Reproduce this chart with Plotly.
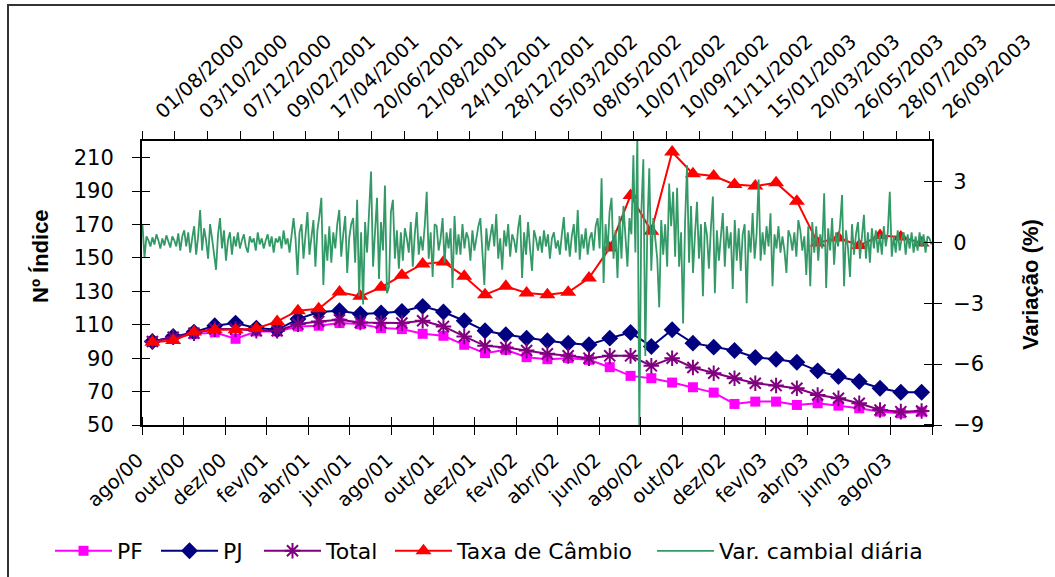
import plotly.graph_objects as go

# ---------------- data ----------------
meses = ["ago/00", "set/00", "out/00", "nov/00", "dez/00", "jan/01", "fev/01", "mar/01",
         "abr/01", "mai/01", "jun/01", "jul/01", "ago/01", "set/01", "out/01", "nov/01",
         "dez/01", "jan/02", "fev/02", "mar/02", "abr/02", "mai/02", "jun/02", "jul/02",
         "ago/02", "set/02", "out/02", "nov/02", "dez/02", "jan/03", "fev/03", "mar/03",
         "abr/03", "mai/03", "jun/03", "jul/03", "ago/03", "set/03"]

pf = [100.0, 102.0, 104.4, 105.4, 101.6, 106.0, 106.0, 109.0, 109.4, 111.0,
      110.4, 108.0, 107.4, 104.6, 103.4, 98.0, 93.0, 95.0, 90.6, 89.4,
      90.0, 89.0, 84.6, 79.4, 78.0, 75.4, 72.6, 69.4, 62.6, 64.0,
      64.0, 62.0, 63.0, 61.6, 60.0, 58.0, 57.0, 58.0]

pj = [100.0, 103.0, 105.6, 109.4, 111.0, 108.0, 107.0, 113.4, 117.6, 118.4,
      116.4, 117.0, 118.0, 121.0, 117.6, 112.4, 106.4, 104.0, 102.0, 100.4,
      99.0, 98.0, 102.0, 105.4, 97.0, 107.0, 99.0, 96.6, 94.6, 90.4,
      89.4, 87.6, 82.4, 79.0, 76.0, 72.0, 69.6, 69.6]

total = [100.0, 102.6, 105.0, 107.4, 107.4, 106.4, 106.4, 110.4, 112.0, 113.0,
         111.4, 111.0, 111.0, 112.4, 109.0, 103.0, 97.4, 96.4, 94.6, 92.6,
         91.4, 90.0, 91.4, 91.4, 85.4, 90.0, 84.4, 81.0, 78.0, 75.0,
         73.6, 72.0, 68.0, 66.0, 63.0, 59.0, 58.0, 58.4]

taxa_cambio = [99.5, 100.6, 105.6, 107.0, 107.0, 107.8, 112.0, 118.4, 119.6, 129.6,
               127.0, 132.4, 139.6, 146.4, 147.6, 139.0, 128.0, 133.0, 129.0, 128.0,
               129.4, 138.0, 156.0, 187.4, 166.0, 213.4, 200.4, 199.0, 194.0, 193.0,
               195.0, 184.0, 159.0, 162.0, 157.4, 163.4, 162.6, 159.0]

datas_topo = ["01/08/2000", "03/10/2000", "07/12/2000", "09/02/2001", "17/04/2001",
              "20/06/2001", "21/08/2001", "24/10/2001", "28/12/2001", "05/03/2002",
              "08/05/2002", "10/07/2002", "10/09/2002", "11/11/2002", "15/01/2003",
              "20/03/2003", "26/05/2003", "28/07/2003", "26/09/2003"]

# daily exchange-rate variation (%), read every 2nd business day
var_cambial = [
    # ago/2000 - out/2000
    0.87, -0.75, 0.3, 0.1, -0.2, 0.25, -0.1, 0.4, 0.1, -0.3, 0.2, -0.15, 0.35, 0.0, -0.25, 0.3, 0.1, -0.2, 0.45,
    # out/2000 - jan/2001
    -0.4, 0.3, 0.6, -0.2, 0.5, -0.5, 0.2, 0.8, -0.6, 0.3, 1.6, -0.4, 0.7, 0.1, -0.8,
    0.9, 0.2, -0.5, -1.35, 0.4, 1.2, -0.3, 0.6, -0.9, 0.1, 0.5, -0.6, 0.3, -0.2, 0.5,
    # jan/2001 - abr/2001
    -0.3, 0.1, 0.4, -0.2, -0.5, 0.3, 0.0, 0.2, -0.4, 0.5, -0.1, 0.2, -0.3, 0.1, 0.4,
    -0.2, 0.3, -0.5, 0.2, 0.0, 0.3, -0.3, 0.6, -0.1, 0.2, -0.5,
    # abr/2001 - mai/2001
    0.3, 1.2, 0.2, -1.6, 0.5, 0.9, -0.8, 0.4, 1.5, -0.6, 0.3, 1.1, -1.2, 0.6, 1.3, 2.2, -2.1, 0.4, -0.9,
    # jun/2001 - set/2001
    0.8, -1.0, 0.5, -0.3, 0.9, 1.6, -0.7, 0.4, 1.3, -1.5, 0.2, 0.9, 1.2, -1.0, 2.1, -2.65, 0.5, -3.06,
    1.0, -0.5, 1.6, 3.5, -1.2, 0.6, 2.2, -1.8, 1.0, -0.4, 2.8, -2.5, -2.2, 1.5, 2.1, -0.8, 0.6, -1.3,
    # set/2001 - dez/2001
    0.5, -0.9, 0.7, 0.2, -0.5, 1.0, -1.2, 0.4, 1.5, -0.6, 0.3, -0.4, 0.8, 2.5, -0.8,
    0.5, -1.7, 0.9, 0.8, -0.4, 0.2, 1.2, -1.0, 0.5, -0.3, 0.7, -2.24, 1.3, -0.6, 0.4,
    # dez/2001 - abr/2002
    -0.6, 0.9, -0.3, 0.5, 0.2, -0.9, 0.6, -0.4, 0.3, 0.8, 1.2, -0.5, -2.1, 0.7, -0.4, 0.3, 0.9, -0.2, 1.4, -0.8,
    0.2, -1.35, 0.6, -0.2, 0.9, -0.7, 0.4, 0.1, -0.5, 0.7, 1.35, -1.75, 0.5, -0.6, 1.0, -0.3, -1.4, 0.6, 0.2, -0.4,
    # abr/2002 - jun/2002
    0.3, -0.5, 0.6, -0.2, 0.4, -0.8, 0.2, 0.5, -0.3, 0.1, -0.6, 0.4, 1.25, -0.4, 0.5,
    -0.7, 0.3, 0.9, -0.5, 1.6, -0.85, 0.4, -0.3, 0.7, -0.6, 0.2, 0.5, -0.4, 0.8,
    # jun/2002 - jul/2002
    1.2, -0.3, 3.16, -2.0, 0.9, -0.5, 1.5, 2.2, -0.8, 0.6, -1.75, 1.3, -0.8, 1.8, 0.3, -1.2, 1.2, 0.4, 4.3, -0.5,
    # jul/2002 - out/2002
    5.3, -9.4, 1.5, 4.1, -5.6, 0.6, 3.65, -1.4, 1.2, 0.2, -0.8, -3.2, 1.1, -0.6, 0.9, -1.2,
    2.9, 0.8, 2.5, -0.7, 2.7, -1.2, 0.5, -4.0, 1.0, 3.8, -1.0, 1.8, -1.5, 0.4, 2.0,
    # out/2002 - dez/2002
    -0.8, 0.9, -2.65, 1.0, 0.4, -1.3, 0.7, 2.26, -2.5, 0.6, -0.9, 0.3, 1.45, -1.2, 0.8, -0.3,
    0.5, -2.3, 1.1, -0.9, 0.7, -1.4, 0.4, 0.9, -3.0, 0.6, -0.5, 1.45, -0.8, 0.4, 3.1,
    # jan/2003 - fev/2003
    -0.9, 0.5, -0.6, 0.8, -0.2, 1.44, -2.16, 0.4, -0.3, 0.8, -0.5, 0.3, -0.4, -1.5, 0.6, 0.3, -0.4, 0.5, -0.7, 1.1,
    # fev/2003 - jun/2003
    0.6, -0.4, 0.3, -1.6, 0.8, -2.16, 1.0, -0.5, 0.8, -0.9, 0.4, -0.3, 2.42, -2.24, 0.7, -0.4, 1.2, -1.1, 0.5, -0.2,
    0.9, 2.34, -2.16, 0.6, -0.3, -1.7, 0.9, -0.6, 0.4, 1.0, -0.8, 0.3, 1.36, -0.8, 0.5, -1.0, 0.7, -0.3, 0.6, -0.5,
    # jun/2003 - set/2003
    0.4, -0.6, 0.8, -0.2, 0.5, 2.5, -0.7, 0.3, -0.5, 0.6, -0.4, 0.2, 0.5, -0.6,
    0.4, -0.3, 0.5, -0.5, 0.3, -0.4, 0.5, -0.2, 0.4, -0.5, 0.3, 0.2, -0.1,
]

N_DIAS = 795        # business days on the top category axis
PASSO = 2           # one reading every 2 business days
ROTULO_CADA = 44    # top-axis label interval (days)
MARCA_CADA = 33     # top-axis tick-mark interval (days)

# ---------------- figure ----------------
FONT = "DejaVu Sans"
TFONT = dict(family=FONT, size=21, color="black")
RFONT = dict(family=FONT, size=19.5, color="black")
LFONT = dict(family=FONT, size=22, color="black")
EPS = 1e-3

x_mes = list(range(len(meses)))
x_dia = [PASSO * k for k in range(len(var_cambial))]

fig = go.Figure()
fig.add_trace(go.Scatter(x=x_mes, y=pf, name="PF", mode="lines+markers",
                         line=dict(color="#FF00FF", width=2),
                         marker=dict(symbol="square", size=10, color="#FF00FF"),
                         legend="legend"))
fig.add_trace(go.Scatter(x=x_mes, y=pj, name="PJ", mode="lines+markers",
                         line=dict(color="#000080", width=2),
                         marker=dict(symbol="diamond", size=13, color="#000080"),
                         legend="legend2"))
fig.add_trace(go.Scatter(x=x_mes, y=total, name="Total", mode="lines+markers",
                         line=dict(color="#800080", width=2),
                         marker=dict(symbol="asterisk-open", size=13, color="#800080",
                                     line=dict(color="#800080", width=2)),
                         legend="legend3"))
fig.add_trace(go.Scatter(x=x_mes, y=taxa_cambio, name="Taxa de Câmbio", mode="lines+markers",
                         line=dict(color="#FF0000", width=2),
                         marker=dict(symbol="triangle-up", size=14, color="#FF0000"),
                         legend="legend4"))
fig.add_trace(go.Scatter(x=x_dia, y=var_cambial, name="Var. cambial diária", mode="lines",
                         line=dict(color="#339966", width=1.8),
                         xaxis="x2", yaxis="y2", legend="legend5"))

L, R, T, B = 142, 932, 141, 425
W, H = 1055, 577
def px(xp):
    return (xp - L) / (R - L)
def py(yp):
    return (B - yp) / (B - T)

# legends placed in container coordinates so they never push the margins
leg_common = dict(orientation="h", yanchor="middle", xanchor="left",
                  xref="container", yref="container", y=1 - 551 / H,
                  font=LFONT, bgcolor="rgba(0,0,0,0)", itemwidth=57, visible=True)

axis_common = dict(showgrid=False, zeroline=False, showline=True, linecolor="black",
                   linewidth=2, ticks="outside", ticklen=8, tickcolor="black",
                   tickfont=TFONT, automargin=False)

mes_ticks = [i - 0.5 for i in range(0, len(meses), 2)] + [len(meses) - 0.5]
y_ticks = list(range(50, 211, 20))
y2_ticks = [-9, -6, -3, 0, 3]

fig.update_layout(
    width=W, height=H, autosize=False, showlegend=True,
    margin=dict(l=L, r=W - R, t=T, b=H - B, pad=0),
    paper_bgcolor="white", plot_bgcolor="white",
    font=TFONT,
    xaxis=dict(axis_common, range=[-0.5, len(meses) - 0.5], tickmode="array",
               tickvals=mes_ticks, tickfont=RFONT,
               ticktext=[meses[i] for i in range(0, len(meses), 2)] + [""],
               tickangle=-43, ticklabelstandoff=6, ticklabelshift=-4,
               minor=dict(ticks="inside", ticklen=8, tickcolor="black", tickwidth=1,
                          tickmode="array", tickvals=[v + EPS for v in mes_ticks])),
    yaxis=dict(axis_common, range=[50, 220], tickmode="array", tickvals=y_ticks,
               ticklabelstandoff=14,
               minor=dict(ticks="inside", ticklen=8, tickcolor="black", tickwidth=1,
                          tickmode="array", tickvals=[v + EPS for v in y_ticks])),
    xaxis2=dict(axis_common, overlaying="x", side="top", anchor="y",
                range=[-0.5, N_DIAS - 0.5], tickmode="array", tickfont=RFONT,
                tickvals=[ROTULO_CADA * m for m in range(len(datas_topo))],
                ticktext=datas_topo, ticks="", tickangle=-43,
                ticklabelstandoff=9, ticklabelshift=14,
                minor=dict(ticks="outside", ticklen=8, tickcolor="black", tickwidth=1,
                           tickmode="array",
                           tickvals=[MARCA_CADA * m - 0.5 for m in range(N_DIAS // MARCA_CADA + 1)])),
    yaxis2=dict(axis_common, overlaying="y", side="right", anchor="x",
                range=[-9, 5], tickmode="array", tickvals=y2_ticks,
                ticklabelstandoff=7,
                minor=dict(ticks="inside", ticklen=8, tickcolor="black", tickwidth=1,
                           tickmode="array", tickvals=[v + EPS for v in y2_ticks])),
    legend=dict(leg_common, x=50 / W),
    legend2=dict(leg_common, x=156 / W),
    legend3=dict(leg_common, x=259 / W),
    legend4=dict(leg_common, x=390 / W),
    legend5=dict(leg_common, x=652 / W),
    annotations=[
        dict(text="<b>Nº Índice</b>", xref="paper", yref="paper", x=px(40), y=py(256),
             textangle=-90, showarrow=False, xanchor="center", yanchor="middle",
             font=dict(family="Liberation Sans", size=22, color="black")),
        dict(text="<b>Variação (%)</b>", xref="paper", yref="paper", x=px(1030), y=py(285),
             textangle=-90, showarrow=False, xanchor="center", yanchor="middle",
             font=dict(family="Liberation Sans", size=22, color="black")),
    ],
    shapes=[
        dict(type="rect", xref="paper", yref="paper", x0=px(8), x1=px(1070),
             y0=py(590), y1=py(5), line=dict(color="#333333", width=2), layer="below"),
    ],
)

fig.write_html("out.html")
